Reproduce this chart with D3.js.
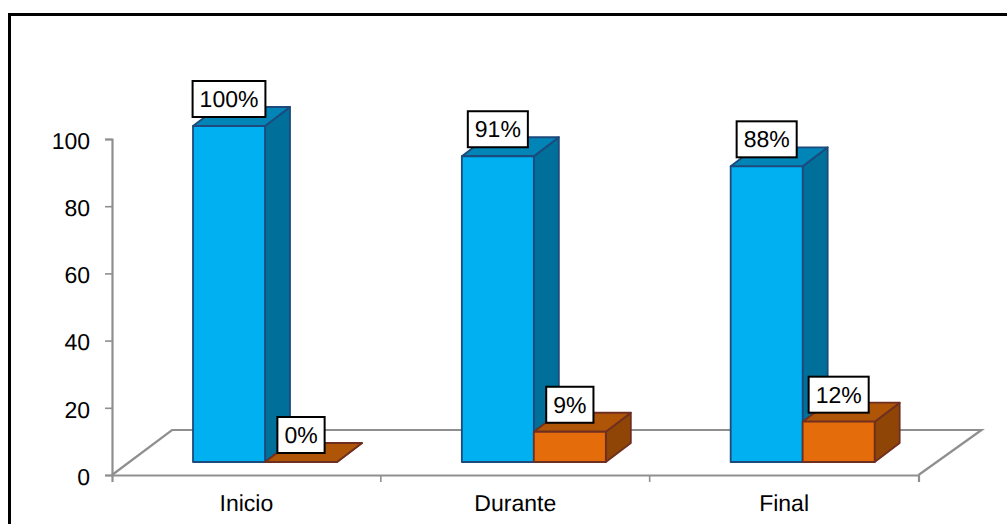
<!DOCTYPE html>
<html>
<head>
<meta charset="utf-8">
<script src="https://cdn.jsdelivr.net/npm/d3@7/dist/d3.min.js"></script>
<style>
html,body{margin:0;padding:0;background:#fff}
svg{display:block}
text{font-family:"Liberation Sans",Arial,sans-serif;fill:#000;text-rendering:geometricPrecision}
</style>
</head>
<body>
<svg id="chart" width="1007" height="524"></svg>
<script>
const categories = ["Inicio", "Durante", "Final"];
const seriesNames = ["Sí", "No"];
const seriesSi = [100, 91, 88];
const seriesNo = [0, 9, 12];
const yTicks = [0, 20, 40, 60, 80, 100];

const palette = {
  "Sí": {front: "#00b0f0", top: "#0085b6", side: "#00709a", edge: "#1d4a7c"},
  "No": {front: "#e46c0a", top: "#ae5508", side: "#8f4506", edge: "#6f2f20"}
};
const axisGrey = "#8f8f8f";
const depth = {dx: 25, dy: -19};
const floor = {dx: 60, dy: -45, barLift: -13};

const svg = d3.select("#chart");

// Outer frame of the chart area; its lower edge runs off the page.
svg.append("rect")
  .attr("x", 9.5).attr("y", 14.5).attr("width", 1100).attr("height", 600)
  .attr("fill", "#fff").attr("stroke", "#000").attr("stroke-width", 3);

const y = d3.scaleLinear().domain([0, 100]).range([475, 139]);
const x = d3.scaleBand().domain(categories).range([112, 918.5]);
const xInner = d3.scaleBand().domain(seriesNames).range([81, 225]);

// Floor of the 3D plot
const left = x.range()[0], right = x.range()[1], base = y(0);
const floorPath = d3.line()([
  [left, base], [left + floor.dx, base + floor.dy],
  [right + floor.dx + 3, base + floor.dy], [right, base]
]);
svg.append("path").attr("d", floorPath)
  .attr("fill", "none").attr("stroke", axisGrey).attr("stroke-width", 2.2);

// Axes
function styleAxis(g) {
  g.select(".domain").attr("stroke", axisGrey).attr("stroke-width", 2.2);
  g.selectAll(".tick line").attr("stroke", axisGrey).attr("stroke-width", 1.6);
  g.selectAll(".tick text").attr("font-size", 23).style("font-family", '"Liberation Sans",Arial,sans-serif');
}
const yAxis = svg.append("g").attr("transform", `translate(${left},0)`)
  .call(d3.axisLeft(y).tickValues(yTicks).tickSize(7).tickSizeOuter(7).tickPadding(15))
  .call(styleAxis);
yAxis.selectAll(".tick text").attr("dy", "0.40em");

const xAxis = svg.append("g").attr("transform", `translate(0,${base})`)
  .call(d3.axisBottom(x).tickSize(0).tickSizeOuter(7).tickPadding(20))
  .call(styleAxis);
xAxis.selectAll(".boundary").data(x.domain().slice(1))
  .enter().append("line").attr("class", "boundary")
  .attr("x1", d => x(d)).attr("x2", d => x(d)).attr("y1", 0).attr("y2", 7)
  .attr("stroke", axisGrey).attr("stroke-width", 1.6);

// 3D bars
const rows = [];
categories.forEach((c, i) => {
  rows.push({cat: c, name: "Sí", value: seriesSi[i]});
  rows.push({cat: c, name: "No", value: seriesNo[i]});
});
const yBar = v => y(v) + floor.barLift;
const poly = pts => d3.line()(pts) + "Z";

svg.selectAll("g.bar").data(rows).enter().append("g").attr("class", "bar")
  .attr("stroke-linejoin", "round").attr("stroke-width", 1.8)
  .each(function(d) {
    const g = d3.select(this), c = palette[d.name];
    const x0 = x(d.cat) + xInner(d.name), x1 = x0 + xInner.bandwidth();
    const y0 = yBar(0), y1 = yBar(d.value);
    g.append("path").attr("fill", c.side).attr("stroke", c.edge)
      .attr("d", poly([[x1, y0], [x1 + depth.dx, y0 + depth.dy], [x1 + depth.dx, y1 + depth.dy], [x1, y1]]));
    g.append("path").attr("fill", c.top).attr("stroke", c.edge)
      .attr("d", poly([[x0, y1], [x0 + depth.dx, y1 + depth.dy], [x1 + depth.dx, y1 + depth.dy], [x1, y1]]));
    g.append("rect").attr("fill", c.front).attr("stroke", c.edge)
      .attr("x", x0).attr("y", y1).attr("width", x1 - x0).attr("height", y0 - y1);
  });

// Value labels in boxes above each bar
const labels = svg.selectAll("g.value").data(rows).enter().append("g").attr("class", "value")
  .attr("transform", d => `translate(${x(d.cat) + xInner(d.name) + xInner.bandwidth() / 2},${yBar(d.value) - 9})`);
labels.append("text")
  .attr("text-anchor", "middle").attr("y", -10).attr("font-size", 23)
  .text(d => d.value + "%");
labels.each(function() {
  const g = d3.select(this), b = g.select("text").node().getBBox();
  g.insert("rect", "text")
    .attr("x", b.x - 7).attr("width", b.width + 14)
    .attr("y", -36).attr("height", 36)
    .attr("fill", "#fff").attr("stroke", "#000").attr("stroke-width", 2);
});
</script>
</body>
</html>
